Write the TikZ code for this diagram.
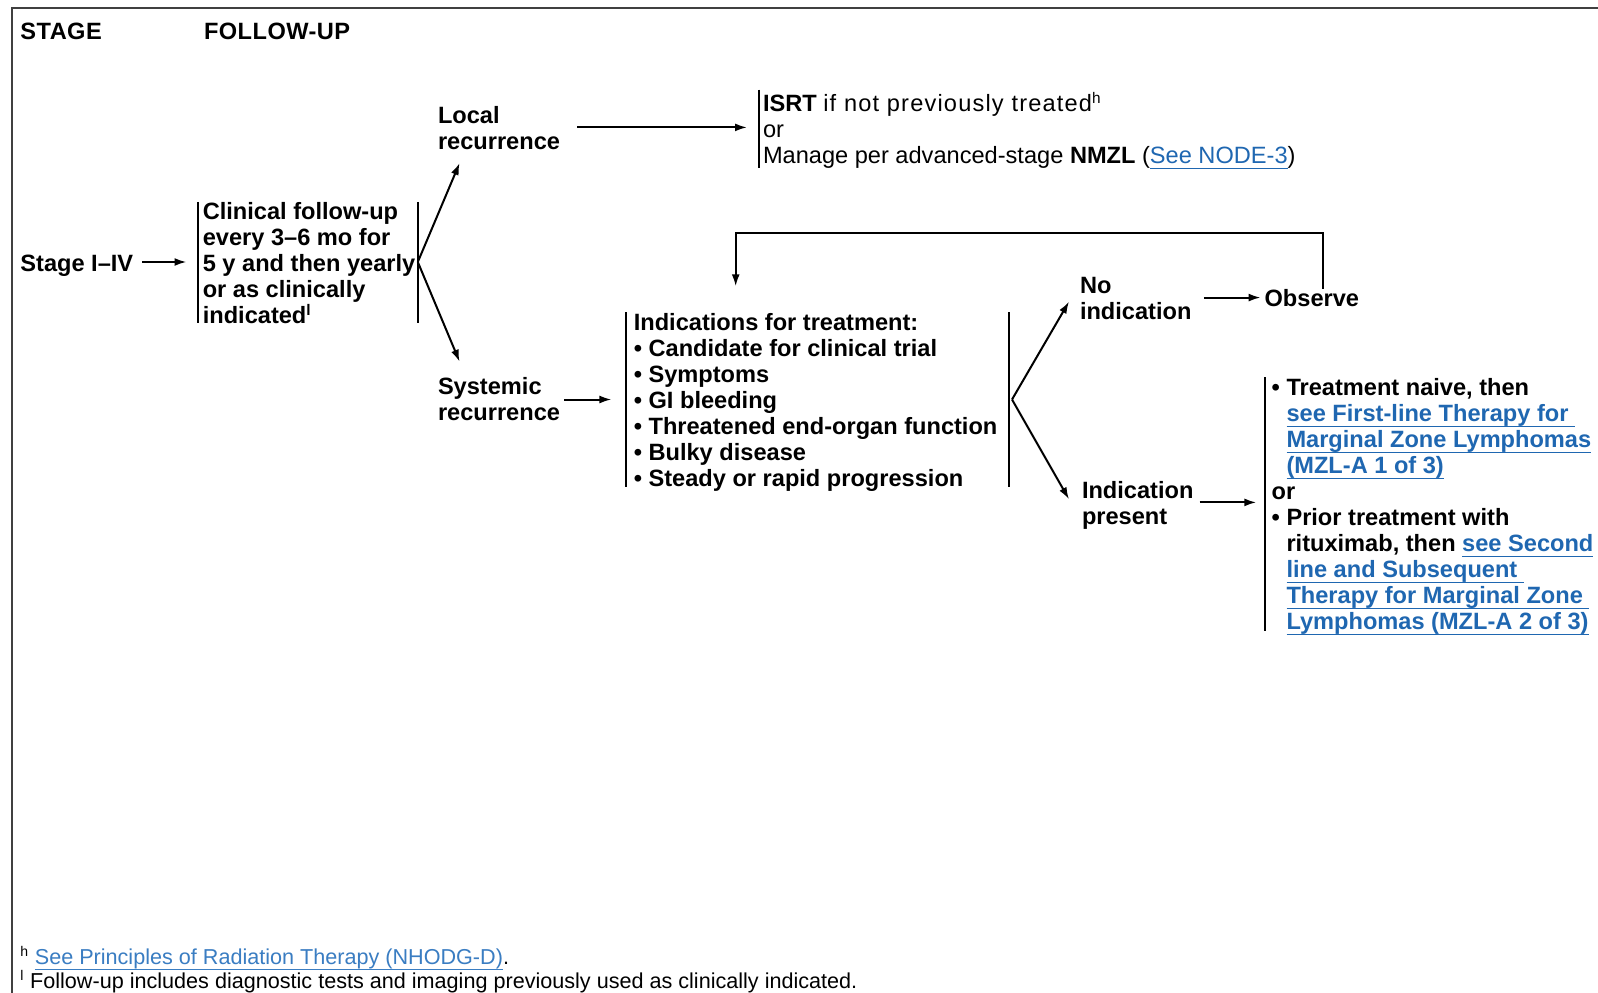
\documentclass[tikz,border=0pt]{standalone}
\usepackage{fontspec}
\setmainfont{Liberation Sans}
\usepackage{graphicx}
\usetikzlibrary{arrows.meta,calc}

\definecolor{linkblue}{HTML}{1F67B1}
\definecolor{notelink}{HTML}{3A7DC2}
\definecolor{framegray}{HTML}{404040}

\newsavebox\ulbox
\newcommand\ulined[1]{\leavevmode\sbox\ulbox{#1}\rlap{\rule[-0.24em]{\wd\ulbox}{0.9pt}}\usebox\ulbox}
\newcommand\bodyfont{\fontsize{17.7}{19.5}\selectfont\bfseries}
\newcommand\notefont{\fontsize{16.2}{18}\selectfont}
\newcommand\lnk[1]{{\color{linkblue}\ulined{#1}}}
\newcommand\notelnk[1]{{\color{notelink}\ulined{#1}}}
\newcommand\sups[1]{\smash{\raisebox{0.35em}{\scalebox{0.65}{#1}}}}
\newcommand\nsups[1]{\smash{\raisebox{0.38em}{\scalebox{0.65}{#1}}}}
\newcommand\rows[1]{\begin{tabular}[t]{@{}l@{}}#1\end{tabular}}
\newcommand\ind{\hphantom{•\ }}

\begin{document}
\begin{tikzpicture}[x=0.75pt,y=-0.75pt,
  txt/.style={inner sep=0pt,outer sep=0pt,anchor=base west,font=\bodyfont},
  note/.style={txt,font=\notefont},
  bar/.style={line width=1.5pt},
  link/.style={line width=1.5pt},
  arr/.style={link,-{Latex[length=9pt,width=6pt]}}]

\useasboundingbox (0,0) rectangle (1598,992);
\fill[white] (0,0) rectangle (1598,992);

% page frame (top and left rules)
\draw[framegray,line width=1.5pt] (11.5,995) -- (11.5,8) -- (1600,8);

% column headings
\node[txt] (hstage) at (20.4,39) {\addfontfeature{LetterSpace=2}STAGE};
\node[txt] (hfollow) at (204,39) {\addfontfeature{LetterSpace=2}FOLLOW-UP};

% stage and follow-up
\node[txt] (stage) at (20.4,271.5) {Stage I–IV};
\node[txt] (cf) at (202.8,219.5) {\rows{Clinical follow-up\\every 3–6 mo for\\5 y and then yearly\\or as clinically\\indicated\sups{l}}};
\draw[bar] (197.7,201.8) -- (197.7,323);
\draw[bar] (417.8,201.8) -- (417.8,323);
\coordinate (cfL) at (197.7,262);
\coordinate (cfR) at (417.8,262);

% recurrence
\node[txt] (loc) at (438,123.5) {\rows{Local\\recurrence}};
\node[txt] (sys) at (438,394.5) {\rows{Systemic\\recurrence}};
\coordinate (locIn) at (459.6,163);
\coordinate (sysIn) at (459.6,361.7);

% local recurrence management
\node[txt,font=\bodyfont\mdseries] (isrt) at (763,111.5) {\rows{\textbf{ISRT} {\addfontfeature{LetterSpace=5}if not previously treated}\sups{h}\\or\\Manage per advanced-stage \textbf{NMZL} (\lnk{See NODE-3})}};
\draw[bar] (759,89.7) -- (759,168);
\coordinate (isL) at (759,127.4);

% indications for treatment
\node[txt] (ind) at (633.8,330.5) {\rows{Indications for treatment:\\• Candidate for clinical trial\\• Symptoms\\• GI bleeding\\• Threatened end-organ function\\• Bulky disease\\• Steady or rapid progression}};
\draw[bar] (625.7,312) -- (625.7,487);
\draw[bar] (1008.8,312) -- (1008.8,487);
\coordinate (indL) at (625.7,399.5);
\coordinate (fork) at (1012,399.5);
\coordinate (indTop) at (735.7,286.3);

% outcomes
\node[txt] (noind) at (1080,293.8) {\rows{No\\indication}};
\node[txt] (obs) at (1264.6,306) {Observe};
\node[txt] (pres) at (1082,498.5) {\rows{Indication\\present}};
\coordinate (noIn) at (1069,301.6);
\coordinate (presIn) at (1069,499.3);
\coordinate (loopTop) at (1322.7,233.4);

% treatment options
\node[txt] (opts) at (1271.7,395.5) {\rows{• Treatment naive, then\\
\ind\lnk{see First-line Therapy for\ }\\
\ind\lnk{Marginal Zone Lymphomas}\\
\ind\lnk{(MZL-A 1 of 3)}\\
or\\
• Prior treatment with\\
\ind rituximab, then \lnk{see Second}\\
\ind\lnk{line and Subsequent\ }\\
\ind\lnk{Therapy for Marginal Zone\ }\\
\ind\lnk{Lymphomas (MZL-A 2 of 3)}}};
\draw[bar] (1264.6,377) -- (1264.6,630.8);
\coordinate (optL) at (1264.6,502.4);

% connectors
\draw[arr,shorten <=6.9pt,shorten >=8.4pt] (stage.east |- cfL) -- (cfL);
\draw[arr] (cfR) -- (locIn);
\draw[arr] (cfR) -- (sysIn);
\draw[arr,shorten <=13pt,shorten >=9pt] (loc.east |- isL) -- (isL);
\draw[arr,shorten <=3pt,shorten >=10.7pt] (sys.east |- indL) -- (indL);
\draw[arr] (fork) -- (noIn);
\draw[arr] (fork) -- (presIn);
\draw[arr,shorten <=9.4pt,shorten >=3pt] (noind.east |- obs.west) -- (obs.west);
\draw[arr,shorten <=4.6pt,shorten >=6.2pt] (pres.east |- optL) -- (optL);
\draw[arr] (obs.north -| loopTop) -- (loopTop) -| (indTop);

% footnotes
\node[note] (fn1) at (20.4,964.7) {\nsups{h}\hspace{5pt}\notelnk{See Principles of Radiation Therapy (NHODG-D)}.};
\node[note] (fn2) at (20.4,988.7) {\nsups{l}\hspace{5pt}Follow-up includes diagnostic tests and imaging previously used as clinically indicated.};
\end{tikzpicture}
\end{document}
